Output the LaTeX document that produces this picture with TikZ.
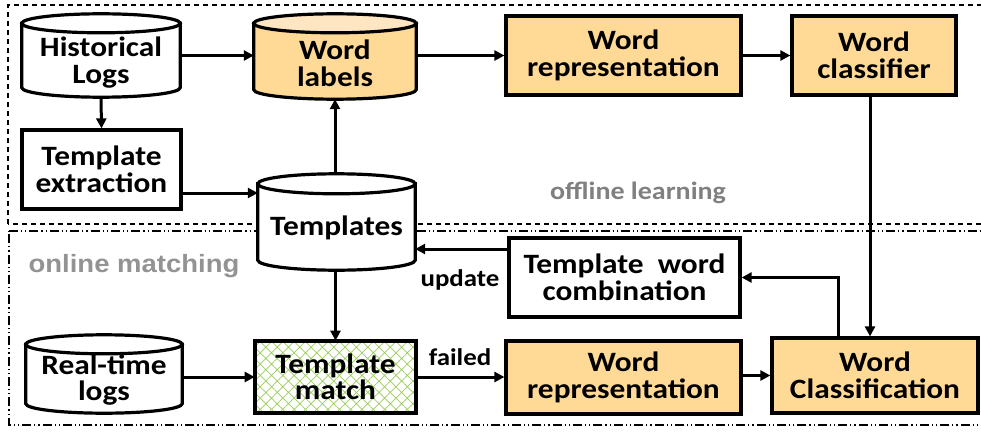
\documentclass[tikz,border=0pt]{standalone}
\usepackage{fontspec}
\setmainfont{Carlito}[FakeStretch=1.12]
\newfontfamily\arialb{Liberation Sans}[BoldFont=* Bold, FakeStretch=1.1]
\usetikzlibrary{calc,arrows.meta,patterns.meta}
\definecolor{orfill}{HTML}{FFD996}
\definecolor{ortop}{HTML}{FFE6C2}
\definecolor{hatchgreen}{HTML}{9ACD5A}
\definecolor{lblgray}{HTML}{808080}
\newcommand{\mycyl}[4]{%
  \draw[line width=3.2pt, fill=#3] let \p1=(#1.north west), \p2=(#1.south east) in
    (\x1,\y1-#2) -- (\x1,\y2+#2)
    arc[start angle=180, end angle=360, x radius={(\x2-\x1)/2}, y radius=#2]
    -- (\x2,\y1-#2) -- cycle;
  \draw[line width=3.2pt, fill=#4] let \p1=(#1.north west), \p2=(#1.south east) in
    ({(\x1+\x2)/2},\y1-#2) ellipse [x radius={(\x2-\x1)/2}, y radius=#2];
}
\begin{document}
\begin{tikzpicture}[x=1pt,y=1pt,
  txt/.style={font=\bfseries\fontsize{28}{26.5}\selectfont, align=center, inner sep=0pt},
  box/.style={draw, line width=3.2pt, inner sep=0pt, align=center, font=\bfseries\fontsize{28}{26.5}\selectfont},
  cylshape/.style={inner sep=0pt},
  arr/.style={line width=3pt, -{Triangle[length=10pt,width=10pt]}},
  glabel/.style={font=\bfseries\fontsize{25}{25}\selectfont, text=lblgray, inner sep=0pt},
  slabel/.style={font=\bfseries\fontsize{24}{24}\selectfont, inner sep=0pt}]
\useasboundingbox (0,0) rectangle (981,432);
% region boxes
\draw[line width=1.2pt, dash pattern=on 5pt off 4pt] (8,208) -- (8,427) -- (990,427) (990,208) -- (8,208);
\draw[line width=1.2pt, dash pattern=on 9pt off 3pt on 1.2pt off 3pt on 1.2pt off 3pt] (9,201) -- (990,201) (990,7) -- (9,7) -- (9,201);
% cylinder shapes
\node[cylshape, minimum width=158pt, minimum height=83pt] (hist) at (101,376.5) {};
\node[cylshape, minimum width=162pt, minimum height=85pt] (wlab) at (335,375.5) {};
\node[cylshape, minimum width=157pt, minimum height=96pt] (tmpl) at (336.5,210) {};
\node[cylshape, minimum width=156pt, minimum height=78pt] (rtl) at (104,58) {};
\mycyl{hist}{9.5pt}{white}{white}
\mycyl{wlab}{9.5pt}{orfill}{ortop}
\mycyl{tmpl}{10pt}{white}{white}
\mycyl{rtl}{9.5pt}{white}{white}
\node[txt] (histT) at ([yshift=-7]hist.center) {Historical\\Logs};
\node[txt] (wlabT) at ([yshift=-7]wlab.center) {Word\\labels};
\node[txt] (tmplT) at ([yshift=-6]tmpl.center) {Templates};
\node[txt] (rtlT) at ([yshift=-6]rtl.center) {Real-time\\logs};
% rectangles
\node[box, fill=orfill, minimum width=235pt, minimum height=79pt] (wrep1) at (623.5,376.5) {Word\\representation};
\node[box, fill=orfill, minimum width=164pt, minimum height=79pt] (wcls) at (874,376.5) {Word\\classifier};
\node[box, fill=white, minimum width=159pt, minimum height=79pt] (text) at (101.5,262.5) {Template\\extraction};
\node[box, fill=white, minimum width=231pt, minimum height=79pt] (twc) at (624.5,154.5) {Template\ \ word\\combination};
\node[box, pattern={Hatch[angle=45,distance=8pt,line width=0.7pt]}, pattern color=hatchgreen, minimum width=161pt, minimum height=72pt] (tm) at (335.5,55) {Template\\match};
\node[box, fill=orfill, minimum width=235pt, minimum height=73pt] (wrep2) at (623.5,54.5) {Word\\representation};
\node[box, fill=orfill, minimum width=206pt, minimum height=75pt] (wclass) at (875,56.5) {Word\\Classification};
% labels
\node[glabel] (offl) at (638,239) {offline learning};
\node[glabel, font=\arialb\bfseries\fontsize{25}{25}\selectfont, text=lblgray!85] (onl) at (134,166) {online matching};
\node[slabel] (upd) at (460,152) {update};
\node[slabel] (fail) at (460,75) {failed};
% arrows
\draw[arr] (hist.east) -- (hist.east -| wlab.west);
\draw[arr] (wlab.east |- wrep1.west) -- (wrep1.west);
\draw[arr] (wrep1.east) -- (wcls.west);
\draw[arr] (hist.south) -- (text.north);
\draw[arr] ([yshift=-23.5]text.east) -- ([yshift=-23.5]text.east -| tmpl.west);
\draw[arr] (tmpl.north -| wlab.south) -- (wlab.south);
\draw[arr] ([xshift=-4]wcls.south) -- ([xshift=-4]wcls.south |- wclass.north);
\draw[arr] ([xshift=-37]wclass.north) |- (twc.east);
\draw[arr] ([yshift=28.5]twc.west) -- ([yshift=28.5]twc.west -| tmpl.east);
\draw[arr] (tmpl.south -| tm.north) -- (tm.north);
\draw[arr] (rtl.east |- tm.west) -- (tm.west);
\draw[arr] (tm.east) -- (tm.east -| wrep2.west);
\draw[arr] (wclass.west -| wrep2.east) -- (wclass.west);
\end{tikzpicture}
\end{document}
